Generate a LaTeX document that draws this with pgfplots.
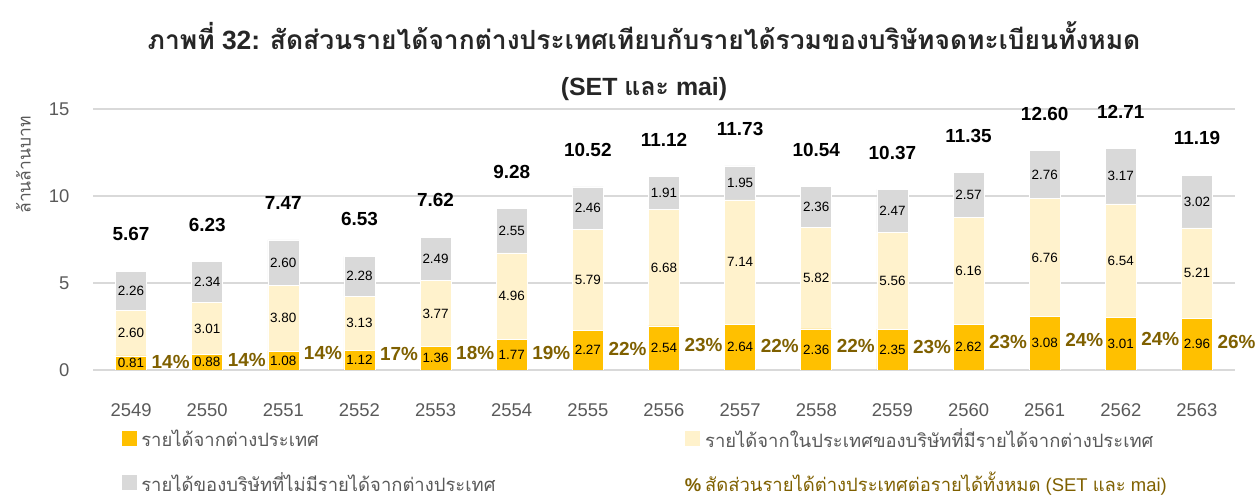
\documentclass[border=0pt]{standalone}
\usepackage{fontspec}
\setmainfont{Liberation Sans}
\newfontfamily\thai[Script=Thai]{Loma}
\usepackage{pgfplots}
\usepackage{pgfplotstable}
\pgfplotsset{compat=1.18}
\definecolor{cOrange}{HTML}{FFC000}
\definecolor{cCream}{HTML}{FFF2CC}
\definecolor{cGray}{HTML}{D9D9D9}
\definecolor{cPct}{HTML}{7F6000}
\definecolor{cText}{HTML}{595959}
\definecolor{cTitle}{HTML}{262626}
\definecolor{cGrid}{HTML}{D9D9D9}

\pgfplotstableread{
x year f d n tot pct py
0 2549 0.81 2.60 2.26 5.67 14 0.48
1 2550 0.88 3.01 2.34 6.23 14 0.58
2 2551 1.08 3.80 2.60 7.47 14 0.96
3 2552 1.12 3.13 2.28 6.53 17 0.90
4 2553 1.36 3.77 2.49 7.62 18 0.96
5 2554 1.77 4.96 2.55 9.28 19 0.96
6 2555 2.27 5.79 2.46 10.52 22 1.19
7 2556 2.54 6.68 1.91 11.12 23 1.44
8 2557 2.64 7.14 1.95 11.73 22 1.38
9 2558 2.36 5.82 2.36 10.54 22 1.40
10 2559 2.35 5.56 2.47 10.37 23 1.34
11 2560 2.62 6.16 2.57 11.35 23 1.63
12 2561 3.08 6.76 2.76 12.60 24 1.73
13 2562 3.01 6.54 3.17 12.71 24 1.77
14 2563 2.96 5.21 3.02 11.19 26 1.60
}\data

\pgfplotsset{
  myaxis/.style={
    at={(93bp,125bp)}, anchor=south west,
    scale only axis, width=1142bp, height=261bp,
    xmin=-0.5, xmax=14.5, ymin=0, ymax=15,
  },
  sq legend/.style={legend image code/.code={\fill[##1] (0bp,-8bp) rectangle (16bp,8bp);}},
  seglab/.style={draw=none, mark=none, nodes near coords, point meta=explicit symbolic,
    every node near coord/.append style={anchor=center, font=\fontsize{13.5}{15}\selectfont, text=black, inner sep=0pt}},
}

\begin{document}
\begin{tikzpicture}
\useasboundingbox (0,0) rectangle (1258bp,495bp);
\begin{axis}[myaxis,
  ybar stacked, bar width=31bp,
  axis line style={draw=none},
  major tick length=0pt,
  /pgf/number format/assume math mode=true,
  ytick={0,5,10,15},
  xtick={0,...,14},
  xticklabels from table={\data}{year},
  ymajorgrids, grid style={cGrid, line width=1.6bp},
  tick label style={font=\fontsize{18.5}{20}\selectfont, text=cText},
  xticklabel style={yshift=-30bp},
  yticklabel style={xshift=-20bp},
  ylabel={\thai ล้านล้านบาท},
  every axis y label/.style={at={(axis description cs:-0.061,0.785)}, rotate=90, anchor=center,
    font=\fontsize{17.5}{20}\selectfont, text=cText},
  legend columns=2,
  legend cell align=left,
  legend style={at={(0.0243,-0.216)}, anchor=north west, draw=none, fill=none,
    inner sep=0pt, outer sep=0pt,
    font=\fontsize{18.5}{21}\selectfont, text=cText, row sep=19bp,
    /tikz/every odd column/.append style={column sep=2bp},
    /tikz/every even column/.append style={column sep=187bp}},
]
\addplot[fill=cOrange, draw=white, line width=0.6bp, sq legend] table[x=x, y=f] {\data};
\addlegendentry{\thai รายได้จากต่างประเทศ}
\addplot[fill=cCream, draw=white, line width=0.6bp, sq legend] table[x=x, y=d] {\data};
\addlegendentry{\thai รายได้จากในประเทศของบริษัทที่มีรายได้จากต่างประเทศ}
\addplot[fill=cGray, draw=white, line width=0.6bp, sq legend] table[x=x, y=n] {\data};
\addlegendentry{\thai รายได้ของบริษัทที่ไม่มีรายได้จากต่างประเทศ}
\addlegendimage{legend image code/.code={\node[text=cPct, font=\bfseries\fontsize{18.5}{21}\selectfont, inner sep=0pt, anchor=west] at (0bp,-4bp) {\%};}}
\addlegendentry{\color{cPct}{\thai สัดส่วนรายได้ต่างประเทศต่อรายได้ทั้งหมด} (SET {\thai และ} mai)}
\end{axis}

\begin{axis}[myaxis, hide axis, clip=false]
\addplot[seglab] table[x=x, y expr=\thisrow{f}/2, meta=f] {\data};
\addplot[seglab] table[x=x, y expr=\thisrow{f}+\thisrow{d}/2, meta=d] {\data};
\addplot[seglab] table[x=x, y expr=\thisrow{f}+\thisrow{d}+\thisrow{n}/2, meta=n] {\data};
\addplot[draw=none, mark=none, nodes near coords, point meta=explicit symbolic,
  every node near coord/.append style={anchor=center, yshift=37bp, font=\bfseries\fontsize{19}{21}\selectfont, text=black, inner sep=0pt}]
  table[x=x, y=tot, meta=tot] {\data};
\addplot[draw=none, mark=none, nodes near coords={\pgfplotspointmeta\%}, point meta=explicit symbolic,
  every node near coord/.append style={anchor=center, font=\bfseries\fontsize{19}{21}\selectfont, text=cPct, inner sep=0pt}]
  table[x expr=\thisrow{x}+0.52, y=py, meta=pct] {\data};
\end{axis}

\node[font=\bfseries\fontsize{26.5}{30}\selectfont, text=cTitle] at (644bp,459bp)
  {{\thai ภาพที่} 32: {\thai สัดส่วนรายได้จากต่างประเทศเทียบกับรายได้รวมของบริษัทจดทะเบียนทั้งหมด}};
\node[font=\bfseries\fontsize{25}{30}\selectfont, text=cTitle] at (644bp,406bp)
  {(SET {\thai และ} mai)};
\end{tikzpicture}
\end{document}
